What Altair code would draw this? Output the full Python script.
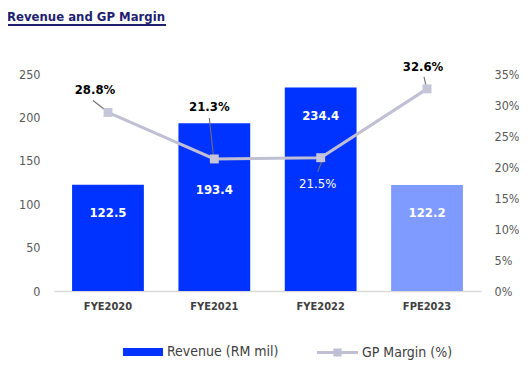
import altair as alt
import pandas as pd

categories = ["FYE2020", "FYE2021", "FYE2022", "FPE2023"]
revenue = [122.5, 193.4, 234.4, 122.2]
gp_margin = [0.288, 0.213, 0.215, 0.326]
bar_series = ["Revenue (RM mil)", "Revenue (RM mil)", "Revenue (RM mil)", "Revenue (FPE)"]
line_series = ["GP Margin (%)"] * 4
title_text = "Revenue and GP Margin"

df = pd.DataFrame({
    "cat": categories,
    "rev": revenue,
    "gp": gp_margin,
    "series": bar_series,
    "line": line_series,
})

FONT = "DejaVu Sans Condensed"
LINE_COLOR = "#C0BFD4"
LEADER = "#6F6F6F"

xenc = alt.X(
    "cat:N", sort=categories,
    scale=alt.Scale(paddingInner=0.325, paddingOuter=0.17),
    axis=alt.Axis(title=None, labelAngle=0, labelFont=FONT, labelFontWeight="bold",
                  labelFontSize=11, labelColor="#404040", domainColor="#D9D9D9",
                  domainWidth=1.5, ticks=False, labelPadding=9, grid=False),
)
yrev = alt.Y(
    "rev:Q", scale=alt.Scale(domain=[0, 250], nice=False),
    axis=alt.Axis(title=None, values=[0, 50, 100, 150, 200, 250], labelFont=FONT,
                  labelFontSize=12.5, labelColor="#595959", domain=False, ticks=False,
                  grid=False, labelPadding=14, orient="left"),
)
ygp = alt.Y(
    "gp:Q", scale=alt.Scale(domain=[0, 0.35], nice=False),
    axis=alt.Axis(title=None, values=[0, 0.05, 0.1, 0.15, 0.2, 0.25, 0.3, 0.35], format=".0%",
                  labelFont=FONT, labelFontSize=12.5, labelColor="#595959", domain=False,
                  ticks=False, grid=False, labelPadding=13, orient="right"),
)

base = alt.Chart(df)

bars = base.mark_bar().encode(
    x=xenc, y=yrev,
    color=alt.Color(
        "series:N",
        scale=alt.Scale(domain=["Revenue (RM mil)", "Revenue (FPE)"], range=["#0033FF", "#7F9BFF"]),
        legend=alt.Legend(
            title=None, values=["Revenue (RM mil)"], orient="none", legendX=69, legendY=258,
            symbolType="M-1,-0.2H1V0.2H-1Z", symbolSize=1600, labelFont=FONT,
            labelFontSize=14, labelColor="#404040", labelOffset=4, symbolStrokeWidth=0,
        ),
    ),
)

bar_labels = base.mark_text(
    color="white", font=FONT, fontWeight="bold", fontSize=13, baseline="middle", dy=28
).encode(x=xenc, y=yrev, text=alt.Text("rev:Q", format=".1f")).transform_filter(
    alt.datum.cat != "FYE2021")
bar_labels2 = base.mark_text(
    color="white", font=FONT, fontWeight="bold", fontSize=13, baseline="middle", dy=67
).encode(x=xenc, y=yrev, text=alt.Text("rev:Q", format=".1f")).transform_filter(
    alt.datum.cat == "FYE2021")

title_mark = alt.Chart(alt.Data(values=[{"t": title_text}])).mark_text(
    align="left", baseline="alphabetic", font=FONT, fontWeight="bold", fontSize=13,
    color="#1F1F70"
).encode(text="t:N", x=alt.value(-47), y=alt.value(-53))
underline = alt.Chart(alt.Data(values=[{"t": title_text}])).mark_rule(
    color="#1F1F70", strokeWidth=2
).encode(x=alt.value(-47), x2=alt.value(112), y=alt.value(-49))

rev_layer = alt.layer(bars, bar_labels, bar_labels2, title_mark, underline)

line = base.mark_line(strokeWidth=3).encode(
    x=xenc, y=ygp,
    stroke=alt.Stroke(
        "line:N", scale=alt.Scale(range=[LINE_COLOR]),
        legend=alt.Legend(
            title=None, orient="none", legendX=263, legendY=258,
            symbolType="M-1,-0.075H-0.2V-0.2H0.2V-0.075H1V0.075H0.2V0.2H-0.2V0.075H-1Z",
            symbolSize=1681, symbolFillColor=LINE_COLOR, symbolStrokeWidth=0,
            labelFont=FONT, labelFontSize=14, labelColor="#404040", labelOffset=4,
        ),
    ),
)
pts = base.mark_square(size=80, color="#C6C5DA", opacity=1).encode(x=xenc, y=ygp)


def gp_label(cat, dx, dy, color, weight, sx, sy, ex, ey):
    t = base.mark_text(
        color=color, font=FONT, fontWeight=weight, fontSize=13, baseline="middle", dx=dx, dy=dy
    ).encode(x=xenc, y=ygp, text=alt.Text("gp:Q", format=".1%")).transform_filter(
        alt.datum.cat == cat)
    r = base.mark_rule(
        color=LEADER, strokeWidth=1.1, xOffset=sx, yOffset=sy, x2Offset=ex, y2Offset=ey
    ).encode(x=xenc, x2="cat:N", y=ygp, y2="gp:Q").transform_filter(alt.datum.cat == cat)
    return [r, t]


gp_marks = []
gp_marks += gp_label("FYE2021", -5, -52, "black", "bold", -5, -41, -1, -4)
gp_marks += gp_label("FYE2022", -3, 26, "white", "normal", 1, 4, -3, 14)
gp_marks += gp_label("FPE2023", -4, -22, "black", "bold", -3, -12, -1, -3)

# leader for the first label: unfiltered rule, shown only for FYE2020
leader0 = base.mark_rule(color=LEADER, strokeWidth=1.1, xOffset=-15, yOffset=-12,
                         x2Offset=-2, y2Offset=-2).encode(
    x=xenc, x2="cat:N", y=ygp, y2="gp:Q",
    opacity=alt.condition(alt.datum.cat == "FYE2020", alt.value(1), alt.value(0)),
)
label0 = base.mark_text(
    color="black", font=FONT, fontWeight="bold", fontSize=13, baseline="middle", dx=-13, dy=-22
).encode(x=xenc, y=ygp, text=alt.Text("gp:Q", format=".1%")).transform_filter(
    alt.datum.cat == "FYE2020")

gp_layer = alt.layer(line, leader0, *gp_marks[::2], pts, label0, *gp_marks[1::2])

chart = alt.layer(rev_layer, gp_layer).resolve_scale(y="independent").properties(
    width=427, height=217,
    autosize=alt.AutoSizeParams(type="none"),
    padding={"left": 46, "top": 66, "right": 38, "bottom": 76},
).configure_view(stroke=None)

chart.save("out.html", embed_options={"renderer": "svg", "actions": False})
